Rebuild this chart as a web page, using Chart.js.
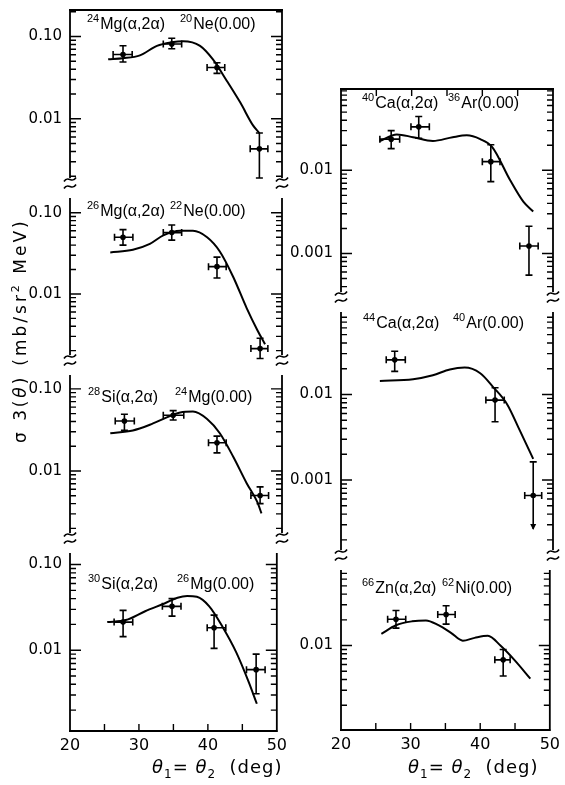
<!DOCTYPE html>
<html><head><meta charset="utf-8">
<script src="https://cdn.jsdelivr.net/npm/chart.js@4.4.1/dist/chart.umd.min.js"></script>
<style>
html,body{margin:0;padding:0;background:#fff;}
body{width:565px;height:785px;position:relative;overflow:hidden;font-family:"Liberation Sans",Arial,sans-serif;color:#000;}
canvas{position:absolute;}
.ann{position:absolute;white-space:nowrap;font-size:16px;line-height:16px;}
.ann sup{font-size:11px;vertical-align:baseline;position:relative;top:-7px;margin-right:1px;}
.yt{position:absolute;white-space:nowrap;font-family:"DejaVu Sans",sans-serif;font-size:17px;line-height:20px;height:20px;text-align:center;transform:rotate(-90deg);letter-spacing:3px;}
.yt sup{font-size:11px;vertical-align:baseline;position:relative;top:-7px;}
.xt{position:absolute;white-space:nowrap;font-family:"DejaVu Sans",sans-serif;font-size:18px;line-height:20px;letter-spacing:1px;}
.xt sub{font-size:12px;vertical-align:baseline;position:relative;top:5px;}
</style></head><body>
<script>
// ---------- DATA ----------
const xTickLabels = [20, 30, 40, 50];
const xMinorTicks = [25, 30, 35, 40, 45];

// 24Mg(a,2a)20Ne(0.00)
const mg24_x   = [27.5, 34.4, 40.8, 46.8];
const mg24_y   = [0.0605, 0.081, 0.042, 0.0043];
const mg24_xlo = [26.1, 33.2, 39.4, 45.5];
const mg24_xhi = [28.8, 35.8, 41.9, 48.0];
const mg24_ylo = [0.049, 0.071, 0.0356, 0.0019];
const mg24_yhi = [0.077, 0.095, 0.048, 0.0067];
const mg24_cx  = [25.4, 27.5, 29.9, 32.3, 34.4, 36.0, 38.4, 40.2, 42.2, 44.1, 45.9, 46.8];
const mg24_cy  = [0.053, 0.0545, 0.059, 0.077, 0.085, 0.0876, 0.077, 0.053, 0.0288, 0.0157, 0.0083, 0.0067];

// 26Mg(a,2a)22Ne(0.00)
const mg26_x   = [27.5, 34.4, 40.8, 46.9];
const mg26_y   = [0.050, 0.057, 0.0217, 0.00212];
const mg26_xlo = [26.3, 33.2, 39.6, 45.6];
const mg26_xhi = [28.9, 35.8, 42.1, 48.0];
const mg26_ylo = [0.040, 0.046, 0.0157, 0.0016];
const mg26_yhi = [0.062, 0.0706, 0.0284, 0.00284];
const mg26_cx  = [25.7, 28.9, 31.3, 33.2, 35.6, 37.4, 39.4, 41.2, 43.1, 45.0, 46.5, 47.6];
const mg26_cy  = [0.0325, 0.035, 0.0414, 0.0526, 0.060, 0.060, 0.050, 0.0334, 0.0162, 0.0067, 0.0036, 0.0024];

// 28Si(a,2a)24Mg(0.00)
const si28_x   = [27.7, 34.6, 40.8, 46.9];
const si28_y   = [0.0407, 0.0477, 0.0221, 0.00503];
const si28_xlo = [26.4, 33.2, 39.6, 45.6];
const si28_xhi = [29.1, 36.1, 42.1, 48.1];
const si28_ylo = [0.0312, 0.0418, 0.0166, 0.0040];
const si28_yhi = [0.049, 0.0544, 0.0266, 0.0064];
const si28_cx  = [25.7, 28.9, 31.3, 33.7, 35.6, 37.4, 39.4, 41.2, 43.1, 45.0, 46.5, 47.1];
const si28_cy  = [0.0288, 0.0312, 0.0366, 0.045, 0.0516, 0.053, 0.043, 0.0288, 0.0149, 0.0071, 0.0042, 0.00304];

// 30Si(a,2a)26Mg(0.00)
const si30_x   = [27.7, 34.8, 40.9, 47.0];
const si30_y   = [0.0213, 0.0325, 0.0183, 0.00593];
const si30_xlo = [26.4, 33.4, 39.9, 45.6];
const si30_xhi = [29.1, 36.1, 42.6, 48.3];
const si30_ylo = [0.0144, 0.025, 0.0105, 0.0031];
const si30_yhi = [0.0292, 0.040, 0.0257, 0.0090];
const si30_cx  = [25.4, 28.1, 30.9, 33.7, 35.6, 37.0, 38.4, 40.2, 42.2, 44.1, 45.9, 47.1];
const si30_cy  = [0.0213, 0.0225, 0.0285, 0.0351, 0.041, 0.043, 0.042, 0.0325, 0.0183, 0.0095, 0.0043, 0.00237];

// 40Ca(a,2a)36Ar(0.00)
const ca40_x   = [27.1, 31.0, 41.2, 46.6];
const ca40_y   = [0.0237, 0.0333, 0.0127, 0.00123];
const ca40_xlo = [25.5, 29.9, 40.0, 45.3];
const ca40_xhi = [28.3, 32.5, 42.5, 47.9];
const ca40_ylo = [0.0182, 0.0243, 0.0073, 0.00055];
const ca40_yhi = [0.030, 0.0444, 0.0203, 0.00213];
const ca40_cx  = [25.5, 27.9, 30.2, 33.0, 35.8, 37.8, 39.7, 41.4, 43.9, 45.8, 47.2];
const ca40_cy  = [0.0225, 0.027, 0.025, 0.0225, 0.025, 0.0263, 0.0237, 0.019, 0.0077, 0.0042, 0.0032];

// 44Ca(a,2a)40Ar(0.00)
const ca44_x   = [27.6, 41.8, 47.2];
const ca44_y   = [0.0254, 0.0086, 0.00066];
const ca44_xlo = [26.4, 40.5, 46.0];
const ca44_xhi = [29.1, 43.1, 48.4];
const ca44_ylo = [0.0186, 0.0048, 0.000267];
const ca44_yhi = [0.032, 0.012, 0.00163];
const ca44_upperLimit = [false, false, true];
const ca44_cx  = [25.5, 30.2, 33.0, 35.4, 37.5, 39.7, 41.5, 43.5, 45.3, 47.2];
const ca44_cy  = [0.0144, 0.0151, 0.0168, 0.0196, 0.0206, 0.0177, 0.0123, 0.0077, 0.0038, 0.00177];

// 66Zn(a,2a)62Ni(0.00)
const zn66_x   = [27.9, 35.1, 43.3];
const zn66_y   = [0.0203, 0.0231, 0.0068];
const zn66_xlo = [26.7, 33.9, 42.1];
const zn66_xhi = [29.3, 36.4, 44.3];
const zn66_ylo = [0.016, 0.0178, 0.0044];
const zn66_yhi = [0.0257, 0.0292, 0.0090];
const zn66_cx  = [25.8, 27.9, 30.2, 32.2, 34.0, 35.8, 37.5, 39.2, 41.1, 42.9, 44.9, 47.2];
const zn66_cy  = [0.0137, 0.0173, 0.0192, 0.0197, 0.0173, 0.0141, 0.0114, 0.0123, 0.0130, 0.010, 0.0068, 0.0041];

const leftTicks = [0.1, 0.01];
const leftTickLabels = ['0.10', '0.01'];
const rightTicks = [0.01, 0.001];
const rightTickLabels = ['0.01', '0.001'];
const znTicks = [0.01];
const znTickLabels = ['0.01'];

// ---------- LAYOUT ----------
const COLS = {
  L: {canvasLeft: 0, canvasW: 292, areaL: 70, areaR: 282},
  R: {canvasLeft: 282, canvasW: 283, areaL: 341, areaR: 553}
};

const panels = [
  {col:'L', top:5,   bottom:188, min:0.001654, max:0.2099, yTicks:leftTicks, yLabels:leftTickLabels, topLine:true, breakBottom:true,
   px:mg24_x, py:mg24_y, xlo:mg24_xlo, xhi:mg24_xhi, ylo:mg24_ylo, yhi:mg24_yhi, cx:mg24_cx, cy:mg24_cy},
  {col:'L', top:188, bottom:365, min:0.001535, max:0.1754, yTicks:leftTicks, yLabels:leftTickLabels, breakTop:true, breakBottom:true,
   px:mg26_x, py:mg26_y, xlo:mg26_xlo, xhi:mg26_xhi, ylo:mg26_ylo, yhi:mg26_yhi, cx:mg26_cx, cy:mg26_cy},
  {col:'L', top:365, bottom:543, min:0.001527, max:0.1698, yTicks:leftTicks, yLabels:leftTickLabels, breakTop:true, breakBottom:true,
   px:si28_x, py:si28_y, xlo:si28_xlo, xhi:si28_xhi, ylo:si28_ylo, yhi:si28_yhi, cx:si28_cx, cy:si28_cy},
  {col:'L', top:543, bottom:731, min:0.00114, max:0.156, yTicks:leftTicks, yLabels:leftTickLabels, breakTop:true, xAxis:true,
   px:si30_x, py:si30_y, xlo:si30_xlo, xhi:si30_xhi, ylo:si30_ylo, yhi:si30_yhi, cx:si30_cx, cy:si30_cy},
  {col:'R', top:84,  bottom:302, min:0.000316, max:0.0949, yTicks:rightTicks, yLabels:rightTickLabels, topLine:true, topTicks:true, breakBottom:true,
   px:ca40_x, py:ca40_y, xlo:ca40_xlo, xhi:ca40_xhi, ylo:ca40_ylo, yhi:ca40_yhi, cx:ca40_cx, cy:ca40_cy},
  {col:'R', top:302, bottom:560, min:0.000133, max:0.1053, yTicks:rightTicks, yLabels:rightTickLabels, breakTop:true, breakBottom:true,
   px:ca44_x, py:ca44_y, xlo:ca44_xlo, xhi:ca44_xhi, ylo:ca44_ylo, yhi:ca44_yhi, cx:ca44_cx, cy:ca44_cy, upper:ca44_upperLimit},
  {col:'R', top:560, bottom:730, min:0.001026, max:0.0877, yTicks:znTicks, yLabels:znTickLabels, breakTop:true, xAxis:true,
   px:zn66_x, py:zn66_y, xlo:zn66_xlo, xhi:zn66_xhi, ylo:zn66_ylo, yhi:zn66_yhi, cx:zn66_cx, cy:zn66_cy}
];

function makeFrame(p, idx){
  return {
    id: 'frame' + idx,
    afterDatasetsDraw(chart){
      const ctx = chart.ctx, a = chart.chartArea, x = chart.scales.x, y = chart.scales.y;
      ctx.save();
      ctx.strokeStyle = '#000'; ctx.fillStyle = '#000'; ctx.lineWidth = 1.8; ctx.lineCap = 'butt';
      const gT = p.breakTop ? 5 : 0, gB = p.breakBottom ? 5 : 0;
      ctx.beginPath();
      [a.left, a.right].forEach(fx => { ctx.moveTo(fx, a.top + gT); ctx.lineTo(fx, a.bottom - gB); });
      if (p.topLine) { ctx.moveTo(a.left - 1, a.top); ctx.lineTo(a.right + 1, a.top); }
      if (p.xAxis) { ctx.moveTo(a.left - 1, a.bottom); ctx.lineTo(a.right + 1, a.bottom); }
      ctx.stroke();
      // y ticks (inward, both sides)
      ctx.lineWidth = 1.4;
      ctx.beginPath();
      const d0 = Math.floor(Math.log10(p.min)), d1 = Math.ceil(Math.log10(p.max));
      for (let d = d0; d <= d1; d++) {
        for (let m = 1; m <= 9; m++) {
          const v = m * Math.pow(10, d);
          if (v <= p.min || v >= p.max) continue;
          const py = y.getPixelForValue(v);
          if (p.breakTop && py < a.top + 6) continue;
          if (p.breakBottom && py > a.bottom - 6) continue;
          const len = m === 1 ? 11 : 6;
          ctx.moveTo(a.left, py); ctx.lineTo(a.left + len, py);
          ctx.moveTo(a.right, py); ctx.lineTo(a.right - len, py);
        }
      }
      // x ticks
      if (p.xAxis) xMinorTicks.forEach(v => { const px = x.getPixelForValue(v); ctx.moveTo(px, a.bottom); ctx.lineTo(px, a.bottom - 7); });
      if (p.topTicks) xMinorTicks.forEach(v => { const px = x.getPixelForValue(v); ctx.moveTo(px, a.top); ctx.lineTo(px, a.top + 7); });
      ctx.stroke();
      // break marks
      if (p.breakBottom) {
        ctx.lineWidth = 1.6;
        ctx.beginPath();
        [a.left, a.right].forEach(fx => {
          [a.bottom - 3.5, a.bottom + 3.5].forEach(cy => {
            ctx.moveTo(fx - 6, cy + 2);
            ctx.bezierCurveTo(fx - 2, cy - 5, fx + 2, cy + 5, fx + 6, cy - 2);
          });
        });
        ctx.stroke();
      }
      // error bars
      ctx.lineWidth = 1.6;
      ctx.beginPath();
      p.px.forEach((xv, i) => {
        const cx = x.getPixelForValue(xv), cy = y.getPixelForValue(p.py[i]);
        const yl = y.getPixelForValue(p.ylo[i]), yh = y.getPixelForValue(p.yhi[i]);
        const xl = x.getPixelForValue(p.xlo[i]), xh = x.getPixelForValue(p.xhi[i]);
        ctx.moveTo(cx, yh); ctx.lineTo(cx, yl);
        ctx.moveTo(cx - 3.5, yh); ctx.lineTo(cx + 3.5, yh);
        if (!(p.upper && p.upper[i])) { ctx.moveTo(cx - 3.5, yl); ctx.lineTo(cx + 3.5, yl); }
        ctx.moveTo(xl, cy); ctx.lineTo(xh, cy);
        ctx.moveTo(xl, cy - 3.5); ctx.lineTo(xl, cy + 3.5);
        ctx.moveTo(xh, cy - 3.5); ctx.lineTo(xh, cy + 3.5);
      });
      ctx.stroke();
      if (p.upper) p.px.forEach((xv, i) => {
        if (!p.upper[i]) return;
        const cx = x.getPixelForValue(xv), yl = y.getPixelForValue(p.ylo[i]);
        ctx.beginPath(); ctx.moveTo(cx - 3, yl - 5); ctx.lineTo(cx + 3, yl - 5); ctx.lineTo(cx, yl + 1); ctx.closePath(); ctx.fill();
      });
      ctx.restore();
    }
  };
}

function build(p, idx){
  const col = COLS[p.col];
  const padTop = 12, xAxisH = 34;
  const padBot = p.xAxis ? 0 : 12;
  const h = (p.bottom - p.top) + padTop + (p.xAxis ? xAxisH : padBot);
  const cv = document.createElement('canvas');
  cv.width = col.canvasW; cv.height = h;
  cv.style.left = col.canvasLeft + 'px'; cv.style.top = (p.top - padTop) + 'px';
  cv.style.width = col.canvasW + 'px'; cv.style.height = h + 'px';
  document.body.appendChild(cv);
  const xScale = { type: 'linear', min: 20, max: 50, display: !!p.xAxis,
       grid: {display: false, drawTicks: false}, border: {display: false},
       afterBuildTicks: s => { s.ticks = xTickLabels.map(v => ({value: v})); },
       ticks: { padding: 5, color: '#000', font: {family: 'DejaVu Sans', size: 16}, maxRotation: 0, autoSkip: false,
                callback: v => String(v) } };
  if (p.xAxis) xScale.afterFit = s => { s.height = xAxisH; };
  new Chart(cv, {
    type: 'scatter',
    data: { datasets: [
      { data: p.cx.map((xv, i) => ({x: xv, y: p.cy[i]})), showLine: true, pointRadius: 0, borderColor: '#000',
        borderWidth: 2, cubicInterpolationMode: 'monotone', fill: false },
      { data: p.px.map((xv, i) => ({x: xv, y: p.py[i]})), pointRadius: 2.8, backgroundColor: '#000', borderColor: '#000', borderWidth: 0 }
    ]},
    options: {
      responsive: false, animation: false, devicePixelRatio: 1,
      events: [],
      layout: { padding: { top: padTop, bottom: padBot, left: 0, right: col.canvasW - (col.areaR - col.canvasLeft) } },
      plugins: { legend: {display: false}, tooltip: {enabled: false} },
      scales: {
        x: xScale,
        y: { type: 'logarithmic', min: p.min, max: p.max,
             grid: {display: false, drawTicks: false}, border: {display: false},
             afterBuildTicks: s => { s.ticks = p.yTicks.map(v => ({value: v})); },
             afterFit: s => { s.width = col.areaL - col.canvasLeft; },
             ticks: { padding: 8, color: '#000', font: {family: 'DejaVu Sans', size: 15}, autoSkip: false,
                      callback: (v, i) => p.yLabels[i] } }
      }
    },
    plugins: [makeFrame(p, idx)]
  });
}

panels.forEach(build);
</script>

<!-- panel annotations -->
<div class="ann" style="left:87px;top:16px"><sup>24</sup>Mg(α,2α)</div>
<div class="ann" style="left:180px;top:16px"><sup>20</sup>Ne(0.00)</div>
<div class="ann" style="left:87px;top:203px"><sup>26</sup>Mg(α,2α)</div>
<div class="ann" style="left:170px;top:203px"><sup>22</sup>Ne(0.00)</div>
<div class="ann" style="left:88px;top:389px"><sup>28</sup>Si(α,2α)</div>
<div class="ann" style="left:175px;top:389px"><sup>24</sup>Mg(0.00)</div>
<div class="ann" style="left:88px;top:576px"><sup>30</sup>Si(α,2α)</div>
<div class="ann" style="left:177px;top:576px"><sup>26</sup>Mg(0.00)</div>
<div class="ann" style="left:362px;top:95px"><sup>40</sup>Ca(α,2α)</div>
<div class="ann" style="left:448px;top:95px"><sup>36</sup>Ar(0.00)</div>
<div class="ann" style="left:363px;top:315px"><sup>44</sup>Ca(α,2α)</div>
<div class="ann" style="left:453px;top:315px"><sup>40</sup>Ar(0.00)</div>
<div class="ann" style="left:362px;top:580px"><sup>66</sup>Zn(α,2α)</div>
<div class="ann" style="left:442px;top:580px"><sup>62</sup>Ni(0.00)</div>

<!-- y axis title -->
<div class="yt" style="left:-10px;top:415px;width:60px">σ 3</div>
<div class="yt" style="left:-10px;top:381px;width:60px">(<i>θ</i>)</div>
<div class="yt" style="left:-70px;top:282px;width:180px">(mb/sr<sup>2</sup> MeV)</div>

<!-- x axis titles -->
<div class="xt" style="left:152px;top:757px"><i>θ</i><sub>1</sub>= <i>θ</i><sub>2</sub> &nbsp;(deg)</div>
<div class="xt" style="left:408px;top:757px"><i>θ</i><sub>1</sub>= <i>θ</i><sub>2</sub> &nbsp;(deg)</div>
</body></html>
